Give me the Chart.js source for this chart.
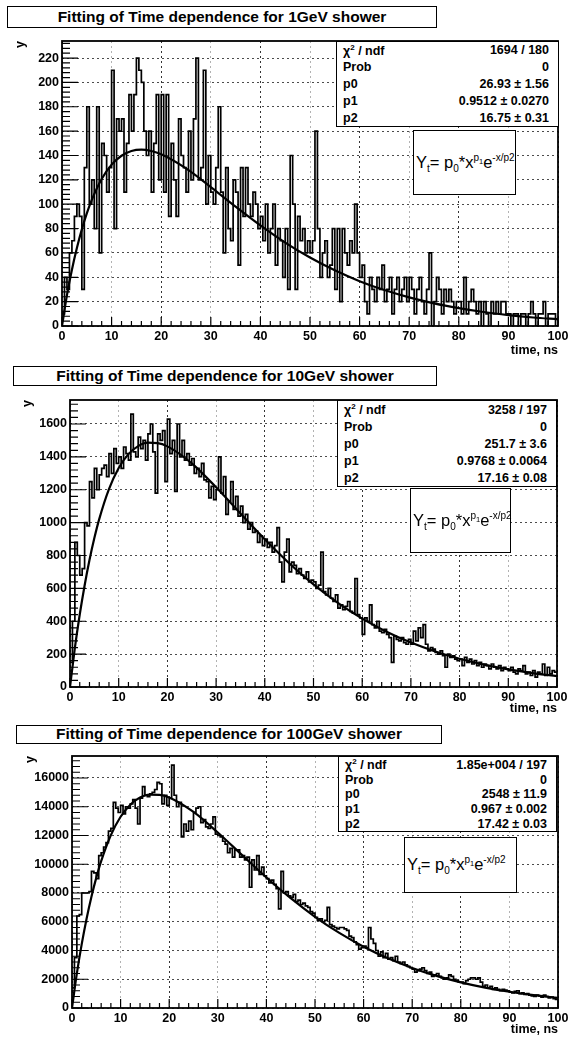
<!DOCTYPE html>
<html>
<head>
<meta charset="utf-8">
<script src="https://cdn.jsdelivr.net/npm/chart.js@4.4.0/dist/chart.umd.min.js"></script>
<style>
body { margin: 0; background: #fff; font-family: "Liberation Sans", Arial, sans-serif; }
#page { position: relative; width: 572px; height: 1037px; overflow: hidden; }
canvas { position: absolute; left: 0; }
.title { position: absolute; border: 1.5px solid #000; box-sizing: border-box; background: #fff;
         font-weight: bold; font-size: 15.5px; text-align: center; white-space: nowrap; }
.stats { position: absolute; border: 1.5px solid #000; box-sizing: border-box; background: #fff;
         font-weight: bold; font-size: 12.5px; display: flex; flex-direction: column; padding: 0 9px 0 6px; }
.stats div { flex: 1; display: flex; justify-content: space-between; align-items: center; }
.stats sup { font-size: 8px; }
.formula { position: absolute; border: 1.5px solid #000; box-sizing: border-box; background: #fff;
           font-size: 16.5px; display: flex; align-items: center; padding-left: 2px; white-space: nowrap; }
.formula sub, .formula sup { font-size: 10px; }
.formula sup sub { font-size: 7.5px; }
</style>
</head>
<body>
<div id="page">
  <canvas id="c1" width="572" height="370" style="top:0px"></canvas>
  <canvas id="c2" width="572" height="370" style="top:360px"></canvas>
  <canvas id="c3" width="572" height="317" style="top:720px"></canvas>
</div>
<script>
// Histogram contents, 200 bins over 0-100 ns
var counts1GeV = [
    10,40,30,60,70,90,100,90,30,130,180,100,120,80,180,60,150,140,110,130,
    210,80,170,160,170,110,150,190,160,190,220,210,200,160,140,160,110,150,190,120,
    190,110,190,90,150,120,90,170,140,130,110,160,120,170,220,120,130,210,100,140,
    110,100,130,180,110,60,130,80,70,120,110,50,130,90,130,100,90,110,100,80,
    90,70,100,60,80,100,50,80,70,40,80,30,140,100,30,90,70,80,60,70,
    60,70,160,80,40,60,70,40,50,80,30,80,20,80,60,50,70,60,100,60,
    40,50,20,10,40,30,20,40,30,50,20,30,40,10,30,40,20,30,40,20,
    40,30,10,30,40,20,10,30,60,0,20,40,30,10,30,20,30,20,10,20,
    20,10,40,10,20,30,20,10,20,0,20,10,0,20,10,20,10,20,20,10,
    10,0,10,10,0,10,10,0,10,20,10,0,10,10,20,0,10,10,10,0
];
var counts10GeV = [
    150,400,880,800,680,720,1000,980,1250,1150,1330,1200,1290,1330,1350,1280,1420,1300,1450,1360,
    1400,1330,1460,1420,1380,1660,1430,1400,1520,1450,1500,1380,1540,1600,1430,1180,1540,1500,1560,1250,
    1630,1420,1500,1190,1600,1400,1500,1380,1420,1350,1390,1300,1330,1280,1360,1260,1250,1150,1220,1140,
    1200,1400,1180,1280,1050,1130,1250,1080,1160,1040,1100,1000,1050,960,1000,940,950,880,920,860,
    900,850,880,820,860,970,760,640,820,900,700,760,740,690,720,680,660,700,640,650,
    640,600,620,820,580,560,600,540,520,560,480,500,470,490,520,460,450,660,440,420,
    320,420,400,500,380,360,400,340,330,350,320,300,150,310,290,280,300,270,260,290,
    260,340,280,360,300,380,260,220,240,230,210,200,220,190,120,200,180,190,170,160,
    170,130,180,150,170,140,160,130,150,120,140,130,110,140,120,110,130,100,120,110,
    100,120,90,80,110,100,130,80,90,70,100,60,90,80,140,70,120,80,100,90
];
var counts100GeV = [
    1400,3500,6400,6500,8000,8000,8000,8100,9500,9400,9000,10600,10800,11200,11500,12300,12500,14300,13900,13600,
    14100,13500,14000,13900,14200,14500,13900,12800,14600,15400,14800,14700,14900,15000,15200,15700,15600,14200,14800,14100,
    14600,16900,14800,14000,14300,11900,12800,12300,13000,12400,13600,13900,14000,12900,13100,12600,12500,12800,13300,12100,
    12000,11900,11600,11400,10800,11100,10500,11000,11000,10500,10600,10300,10500,8400,10300,9600,10600,9300,9800,9200,
    9000,8700,8900,8600,8300,6900,9500,8000,8100,7800,7700,7900,7400,7500,7200,7300,7100,7000,6700,6600,
    6300,6100,6200,6000,6100,7000,5800,5700,5600,5500,5600,5600,5500,5400,5000,4900,4600,4400,4100,4200,
    4300,4200,5600,4800,4500,4000,3600,3900,3500,3800,3400,3500,3300,3600,3200,3100,3200,3000,2900,2800,
    2700,2500,2600,2700,2800,2600,2400,2500,2200,2300,2400,2200,2100,2000,2100,2300,2200,2000,1900,1800,
    1800,1700,1900,2000,2100,2100,2000,2100,1800,1500,1600,1400,1500,1300,1400,1300,1200,1300,1250,1200,
    1100,1050,1150,1200,1000,1050,950,1000,900,850,800,900,850,750,900,800,700,750,650,600
];

// Fitted curves, read at these times (ns)
var fitX = [0,1,2,3,4,5,6,8,10,12,14,16,18,20,25,30,35,40,45,50,55,60,65,70,75,80,85,90,95,100];
var fit1GeV = [0,25.4,46.2,64.0,79.3,92.4,103.5,120.7,132.5,139.8,143.7,144.8,143.7,141.0,129.4,114.1,98.0,82.6,68.5,56.2,45.7,36.8,29.5,23.5,18.6,14.7,11.5,9.0,7.0,5.5];
var fit10GeV = [0,237.5,440.9,617.9,772.3,905.9,1021.2,1203.8,1332.4,1416.8,1465.6,1486.3,1484,1464,1360.6,1214.8,1055.4,898.5,753.1,623.8,511.5,416.1,336.2,270.1,215.9,171.9,136.3,107.6,84.8,66.6];
var fit100GeV = [0,2406,4441,6205,7738,9068,10212,12025,13302,14145,14638,14847,14832,14645,13638,12207,10637,9079,7638,6346,5222,4263,3457,2787,2236,1787,1422,1128,892,703];

// Axis ticks
var xTicks = [0,10,20,30,40,50,60,70,80,90,100];
var yTicks1GeV = [0,20,40,60,80,100,120,140,160,180,200,220];
var yTicks10GeV = [0,200,400,600,800,1000,1200,1400,1600];
var yTicks100GeV = [0,2000,4000,6000,8000,10000,12000,14000,16000];

// Titles and fit statistics
var titles = ['Fitting of Time dependence for 1GeV shower', 'Fitting of Time dependence for 10GeV shower', 'Fitting of Time dependence for 100GeV shower'];
var statLabels = ['&chi;<sup>2</sup> / ndf', 'Prob', 'p0', 'p1', 'p2'];
var stats1GeV = ['1694 / 180', '0', '26.93 ± 1.56', '0.9512 ± 0.0270', '16.75 ± 0.31'];
var stats10GeV = ['3258 / 197', '0', '251.7 ± 3.6', '0.9768 ± 0.0064', '17.16 ± 0.08'];
var stats100GeV = ['1.85e+004 / 197', '0', '2548 ± 11.9', '0.967 ± 0.002', '17.42 ± 0.03'];
var formulaHtml = '<span>Y<sub>t</sub>= p<sub>0</sub>*x<sup>p<sub>1</sub></sup>e<sup>-x/p2</sup></span>';

// Panel layout
var panels = [
    { id: 'c1', counts: counts1GeV, fit: fit1GeV, yTicks: yTicks1GeV, title: titles[0], stats: stats1GeV,
      yMax: 234, yMinor: 4, yWidth: 62, xHeight: 44, padTop: 41, padRight: 14, yTitlePad: 13.5, xTitlePad: 11.5,
      titleBox: [7, 6, 430, 22], statsBox: [336, 41, 223, 86], formulaBox: [413, 130, 103, 65] },
    { id: 'c2', counts: counts10GeV, fit: fit10GeV, yTicks: yTicks10GeV, title: titles[1], stats: stats10GeV,
      yMax: 1746, yMinor: 40, yWidth: 70, xHeight: 43, padTop: 40, padRight: 15, yTitlePad: 20.5, xTitlePad: 13.5,
      titleBox: [13, 366, 424, 20], statsBox: [337, 400, 220, 87], formulaBox: [410, 488, 101, 65] },
    { id: 'c3', counts: counts100GeV, fit: fit100GeV, yTicks: yTicks100GeV, title: titles[2], stats: stats100GeV,
      yMax: 17530, yMinor: 400, yWidth: 72, xHeight: 29, padTop: 36, padRight: 14, yTitlePad: 23.5, xTitlePad: 0,
      titleBox: [16, 725, 426, 19], statsBox: [338, 756, 219, 76], formulaBox: [404, 837, 113, 56] }
];

// Frame and inward ROOT-style ticks
var rootFrame = {
    id: 'rootFrame',
    afterDatasetsDraw: function(chart, args, opts) {
        var ctx = chart.ctx, a = chart.chartArea;
        var xs = chart.scales.x, ys = chart.scales.y;
        var yStep = opts.yTicks[1] - opts.yTicks[0];
        ctx.save();
        ctx.strokeStyle = '#000';
        ctx.lineWidth = 1.2;
        ctx.beginPath();
        for (var v = 0; v <= 100.001; v += 2) {
            var px = xs.getPixelForValue(v);
            var len = Math.abs(v % 10) < 0.001 ? 9 : 5;
            ctx.moveTo(px, a.bottom);
            ctx.lineTo(px, a.bottom - len);
        }
        for (var w = 0; w <= ys.max; w += opts.yMinor) {
            var py = ys.getPixelForValue(w);
            var len2 = (w % yStep) === 0 ? 16 : 8;
            ctx.moveTo(a.left, py);
            ctx.lineTo(a.left + len2, py);
        }
        ctx.stroke();
        ctx.lineWidth = 1.8;
        ctx.strokeRect(a.left, a.top, a.right - a.left, a.bottom - a.top);
        ctx.restore();
    }
};

Chart.defaults.font.family = '"Liberation Sans", Arial, sans-serif';
Chart.defaults.color = '#000';

function histPoints(counts) {
    var width = 100 / counts.length;
    var pts = [];
    for (var i = 0; i < counts.length; i++) {
        pts.push({ x: i * width, y: counts[i] });
    }
    pts.push({ x: 100, y: counts[counts.length - 1] });
    return pts;
}

function curvePoints(xs, ys) {
    return xs.map(function(x, i) { return { x: x, y: ys[i] }; });
}

function tickList(values) {
    return values.map(function(v) { return { value: v }; });
}

function box(cls, r, html) {
    var d = document.createElement('div');
    d.className = cls;
    d.style.left = r[0] + 'px';
    d.style.top = r[1] + 'px';
    d.style.width = r[2] + 'px';
    d.style.height = r[3] + 'px';
    d.innerHTML = html;
    document.getElementById('page').appendChild(d);
    return d;
}

function createChart(p) {
    var boldFont = { weight: 'bold', size: 12.5 };
    return new Chart(document.getElementById(p.id).getContext('2d'), {
        type: 'line',
        data: {
            datasets: [
                { data: curvePoints(fitX, p.fit), borderColor: '#000', borderWidth: 2.2,
                  pointRadius: 0, cubicInterpolationMode: 'monotone' },
                { data: histPoints(p.counts), borderColor: '#000', borderWidth: 1.7,
                  pointRadius: 0, stepped: true }
            ]
        },
        options: {
            responsive: false,
            animation: false,
            events: [],
            layout: { padding: { top: p.padTop, right: p.padRight, left: 0, bottom: 0 } },
            plugins: {
                legend: { display: false },
                tooltip: { enabled: false },
                rootFrame: { yMinor: p.yMinor, yTicks: p.yTicks }
            },
            scales: {
                x: {
                    type: 'linear', min: 0, max: 100,
                    afterFit: function(s) { s.height = p.xHeight; },
                    afterBuildTicks: function(s) { s.ticks = tickList(xTicks); },
                    ticks: { padding: 3, maxRotation: 0, autoSkip: false, font: boldFont },
                    grid: {
                        drawTicks: false, lineWidth: 1,
                        color: function(c) {
                            return c.tick && c.tick.value % 20 === 0 ? 'rgba(0,0,0,0.8)' : 'rgba(0,0,0,0.3)';
                        }
                    },
                    border: { display: false, dash: [2, 3] },
                    title: { display: true, text: 'time, ns', align: 'end', font: boldFont,
                             padding: { top: 0, bottom: p.xTitlePad } }
                },
                y: {
                    type: 'linear', min: 0, max: p.yMax,
                    afterFit: function(s) { s.width = p.yWidth; },
                    afterBuildTicks: function(s) { s.ticks = tickList(p.yTicks); },
                    ticks: { padding: 3, autoSkip: false, font: boldFont,
                             callback: function(v) { return String(v); } },
                    grid: { drawTicks: false, lineWidth: 1, color: 'rgba(0,0,0,0.7)' },
                    border: { display: false, dash: [2, 3] },
                    title: { display: true, text: 'y', align: 'end', font: boldFont,
                             padding: { top: p.yTitlePad, bottom: 0 } }
                }
            }
        },
        plugins: [rootFrame]
    });
}

panels.forEach(function(p) {
    createChart(p);
    var t = box('title', p.titleBox, p.title);
    t.style.lineHeight = (p.titleBox[3] - 3) + 'px';
    var rows = statLabels.map(function(lab, i) {
        return '<div><span>' + lab + '</span><span>' + p.stats[i] + '</span></div>';
    }).join('');
    box('stats', p.statsBox, rows);
    box('formula', p.formulaBox, formulaHtml);
});
</script>
</body>
</html>
